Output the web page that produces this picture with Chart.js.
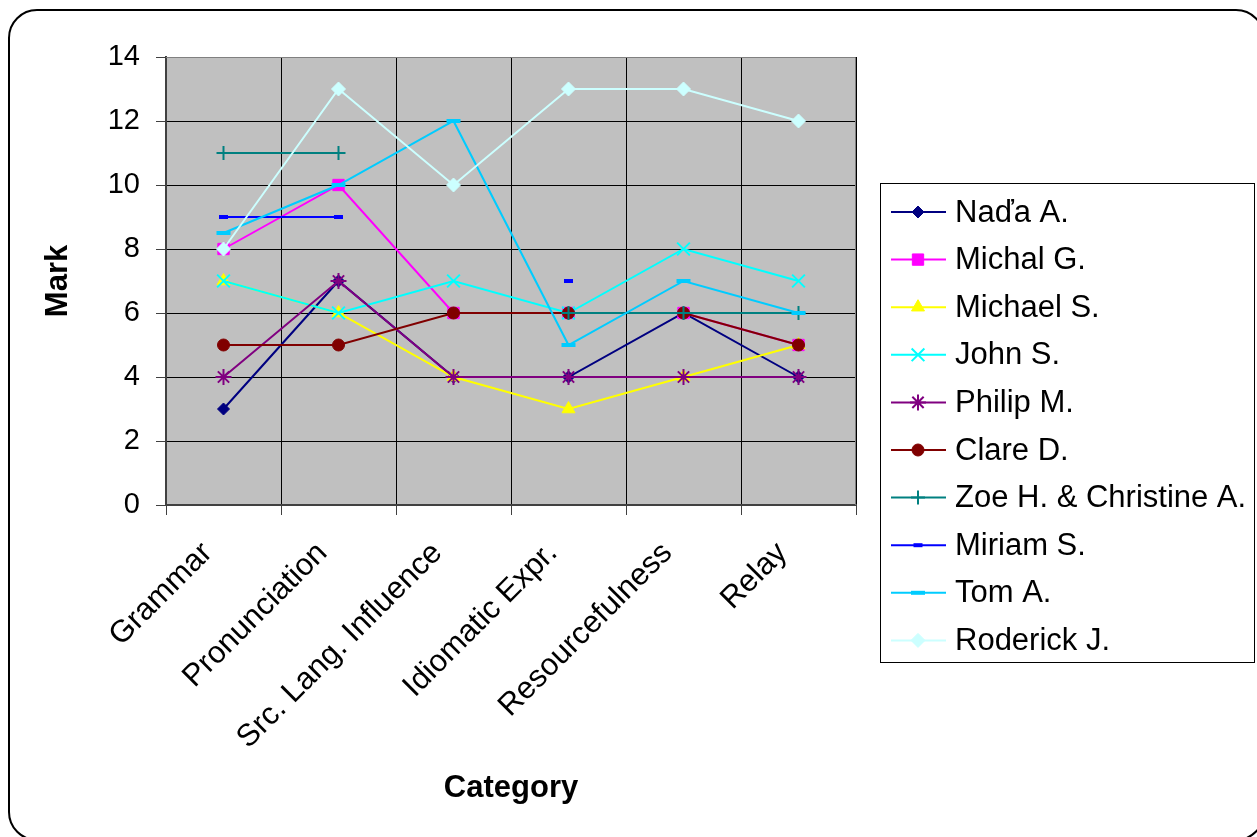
<!DOCTYPE html>
<html>
<head>
<meta charset="utf-8">
<script src="https://cdn.jsdelivr.net/npm/chart.js@4/dist/chart.umd.min.js"></script>
<style>
  html, body { margin: 0; padding: 0; background: #ffffff; }
  canvas { display: block; }
</style>
</head>
<body>
<canvas id="marks" width="1257" height="837"></canvas>
<script>
// Assessment categories (x axis)
const categories = ['Grammar', 'Pronunciation', 'Src. Lang. Influence', 'Idiomatic Expr.', 'Resourcefulness', 'Relay'];

// Mark scale (y axis)
const markMin = 0;
const markMax = 14;
const markStep = 2;

// Marks per student, one value per category (null = not assessed)
const nadaA      = [3, 7, 4, 4, 6, 4];
const michalG    = [8, 10, 6, 6, 6, 5];
const michaelS   = [7, 6, 4, 3, 4, 5];
const johnS      = [7, 6, 7, 6, 8, 7];
const philipM    = [4, 7, 4, 4, 4, 4];
const clareD     = [5, 5, 6, 6, 6, 5];
const zoeChris   = [11, 11, null, 6, 6, 6];
const miriamS    = [9, 9, null, 7, null, null];
const tomA       = [8.5, 10, 12, 5, 7, 6];
const roderickJ  = [8, 13, 10, 13, 13, 12];

const studentNames = ['Naďa A.', 'Michal G.', 'Michael S.', 'John S.', 'Philip M.', 'Clare D.',
                      'Zoe H. & Christine A.', 'Miriam S.', 'Tom A.', 'Roderick J.'];
const studentMarks = [nadaA, michalG, michaelS, johnS, philipM, clareD, zoeChris, miriamS, tomA, roderickJ];

const FONT = "'Liberation Sans', Arial, sans-serif";

// Line colour and marker style for each student
const styles = [
  { color: '#000080', point: 'rectRot',  radius: 6,   bw: 1 },
  { color: '#FF00FF', point: 'rect',     radius: 8,   bw: 1 },
  { color: '#FFFF00', point: 'triangle', radius: 7.5, bw: 1 },
  { color: '#00FFFF', point: 'crossRot', radius: 9,   bw: 2 },
  { color: '#800080', point: 'star',     radius: 8,   bw: 2 },
  { color: '#800000', point: 'circle',   radius: 6,   bw: 1 },
  { color: '#008080', point: 'cross',    radius: 7,   bw: 2 },
  { color: '#0000FF', point: 'line',     radius: 4.5, bw: 4 },
  { color: '#00CCFF', point: 'line',     radius: 7,   bw: 4 },
  { color: '#CCFFFF', point: 'rectRot',  radius: 7,   bw: 1 }
];

const datasets = studentMarks.map((values, i) => ({
  label: studentNames[i],
  data: values,
  borderColor: styles[i].color,
  backgroundColor: styles[i].color,
  borderWidth: 2,
  pointStyle: styles[i].point,
  pointRadius: styles[i].radius,
  pointHoverRadius: styles[i].radius,
  pointBorderWidth: styles[i].bw,
  pointBackgroundColor: styles[i].color,
  pointBorderColor: styles[i].color,
  spanGaps: false,
  tension: 0,
  // later students are painted over earlier ones
  order: studentMarks.length - i
}));

// Frame, grey plot area and the side legend
const chartDecor = {
  id: 'chartDecor',
  beforeDraw(chart) {
    const ctx = chart.ctx;
    const a = chart.chartArea;
    ctx.save();
    ctx.fillStyle = '#ffffff';
    ctx.fillRect(0, 0, chart.width, chart.height);
    // rounded outer frame
    ctx.beginPath();
    ctx.roundRect(9, 10, 1255, 830, 28);
    ctx.lineWidth = 2;
    ctx.strokeStyle = '#000000';
    ctx.stroke();
    // plot area fill
    ctx.fillStyle = '#C0C0C0';
    ctx.fillRect(a.left, a.top, a.right - a.left, a.bottom - a.top);
    ctx.restore();
  },
  beforeDatasetsDraw(chart) {
    const ctx = chart.ctx;
    const a = chart.chartArea;
    ctx.save();
    ctx.strokeStyle = '#808080';
    ctx.lineWidth = 1;
    ctx.beginPath();
    ctx.moveTo(a.left, a.top + 0.5);
    ctx.lineTo(a.right - 0.5, a.top + 0.5);
    ctx.lineTo(a.right - 0.5, a.bottom);
    ctx.stroke();
    ctx.restore();
  },
  afterDraw(chart) {
    const ctx = chart.ctx;
    const box = { x: 880, y: 183, w: 374, h: 479 };
    const rowH = 47.6;
    ctx.save();
    ctx.fillStyle = '#ffffff';
    ctx.fillRect(box.x, box.y, box.w, box.h);
    ctx.strokeStyle = '#000000';
    ctx.lineWidth = 1;
    ctx.strokeRect(box.x + 0.5, box.y + 0.5, box.w, box.h);
    chart.data.datasets.forEach((ds, i) => {
      const y = box.y + 29 + i * rowH;
      ctx.strokeStyle = ds.borderColor;
      ctx.lineWidth = 2;
      ctx.beginPath();
      ctx.moveTo(box.x + 11, y);
      ctx.lineTo(box.x + 66, y);
      ctx.stroke();
      ctx.fillStyle = ds.pointBackgroundColor;
      ctx.strokeStyle = ds.pointBorderColor;
      ctx.lineWidth = ds.pointBorderWidth;
      Chart.helpers.drawPoint(ctx, {
        pointStyle: ds.pointStyle,
        radius: ds.pointRadius,
        borderWidth: ds.pointBorderWidth,
        rotation: 0
      }, box.x + 38, y);
      ctx.font = '31px ' + FONT;
      ctx.textBaseline = 'middle';
      ctx.textAlign = 'left';
      ctx.fillStyle = '#000000';
      ctx.fillText(ds.label, box.x + 75, y + 1);
    });
    ctx.restore();
  }
};

new Chart(document.getElementById('marks'), {
  type: 'line',
  data: { labels: categories, datasets },
  plugins: [chartDecor],
  options: {
    responsive: false,
    animation: false,
    events: [],
    layout: { padding: { left: 40, top: 57, right: 401, bottom: 30 } },
    plugins: { legend: { display: false }, tooltip: { enabled: false } },
    scales: {
      x: {
        offset: true,
        afterFit(scale) { scale.height = 302; },
        grid: { offset: true, color: '#000000', lineWidth: 1, tickLength: 10, tickColor: '#404040', drawOnChartArea: true },
        border: { color: '#404040', width: 2 },
        ticks: { color: '#000000', font: { family: FONT, size: 31 }, minRotation: 45, maxRotation: 45, padding: 20, labelOffset: -16, autoSkip: false },
        title: { display: true, text: 'Category', color: '#000000', font: { family: FONT, size: 31, weight: 'bold' }, padding: 0 }
      },
      y: {
        min: markMin, max: markMax,
        afterFit(scale) { scale.width = 126; },
        grid: { color: '#000000', lineWidth: 1, tickLength: 10, tickColor: '#404040' },
        border: { color: '#404040', width: 2 },
        ticks: { stepSize: markStep, color: '#000000', font: { family: FONT, size: 29 }, padding: 16 },
        title: { display: true, text: 'Mark', color: '#000000', font: { family: FONT, size: 31, weight: 'bold' }, padding: 0 }
      }
    }
  }
});
</script>
</body>
</html>
